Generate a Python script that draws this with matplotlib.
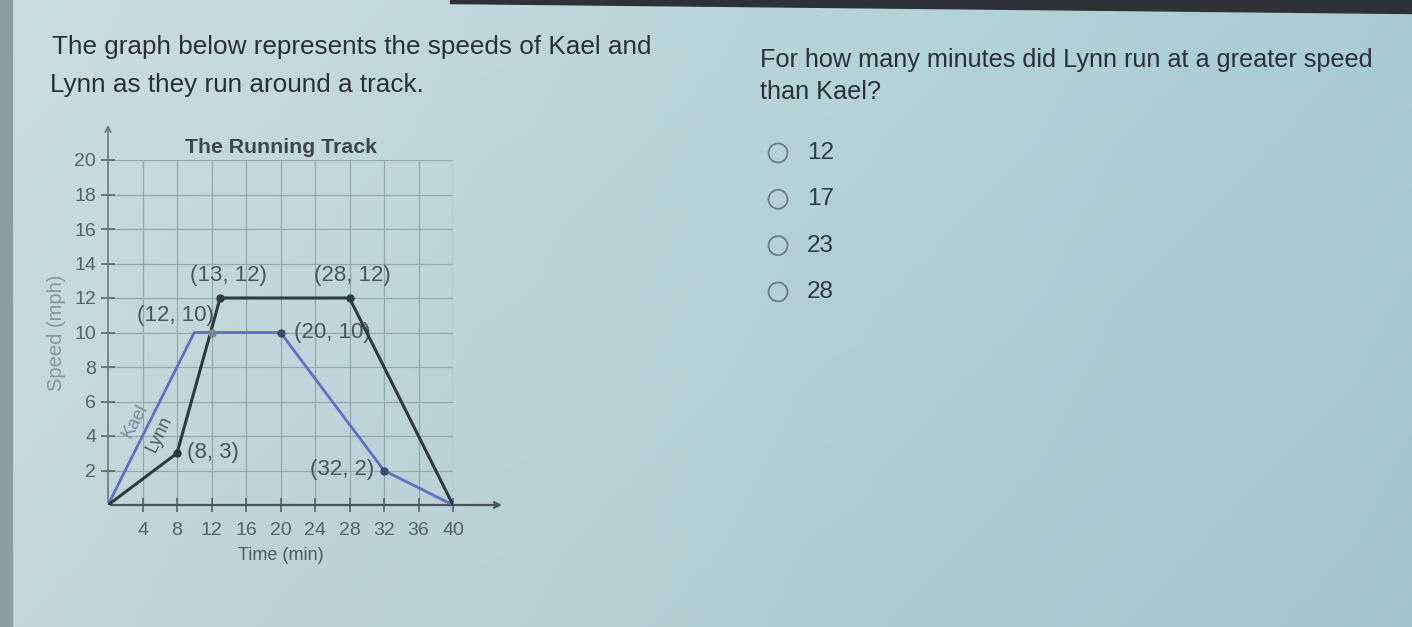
import numpy as np
import matplotlib
matplotlib.use("Agg")
import matplotlib.pyplot as plt
from matplotlib.patches import Circle

plt.rcParams['font.family'] = ['Liberation Sans', 'DejaVu Sans']

# speed data
kael_time = [0, 10, 20, 32, 40]
kael_speed = [0, 10, 10, 2, 0]
lynn_time = [0, 8, 13, 28, 40]
lynn_speed = [0, 3, 12, 12, 0]

# labelled points
point_x = [13, 28, 12, 20, 8, 32]
point_y = [12, 12, 10, 10, 3, 2]
point_text = ["(13, 12)", "(28, 12)", "(12, 10)", "(20, 10)", "(8, 3)", "(32, 2)"]

x_ticks = [4, 8, 12, 16, 20, 24, 28, 32, 36, 40]
y_ticks = [2, 4, 6, 8, 10, 12, 14, 16, 18, 20]

choices = ["12", "17", "23", "28"]

fig = plt.figure(figsize=(14.12, 6.27), dpi=100)

# photo-ish background
bg = fig.add_axes([0, 0, 1, 1])
gx = np.linspace(0, 1, 300)
gy = np.linspace(0, 1, 150)
GX, GY = np.meshgrid(gx, gy)
left_col = np.array([0.80, 0.87, 0.88])
right_col = np.array([0.66, 0.80, 0.84])
img = left_col[None, None, :] * (1 - GX[..., None]) + right_col[None, None, :] * GX[..., None]
img = img - 0.03 * GY[..., None]
bg.imshow(np.clip(img, 0, 1), extent=[0, 1412, 627, 0], aspect='auto')
bg.fill_between([0, 12], 0, 627, color='#8c9ca2')
bg.fill_between([450, 1412], [0, 0], [3, 13], color='#2e3236')
bg.set_xlim(0, 1412)
bg.set_ylim(627, 0)
bg.axis('off')

text_col = '#2a3038'
bg.text(52, 47, "The graph below represents the speeds of Kael and", fontsize=18.8, color=text_col, va='center')
bg.text(50, 85, "Lynn as they run around a track.", fontsize=18.8, color=text_col, va='center')
bg.text(760, 60, "For how many minutes did Lynn run at a greater speed", fontsize=18.2, color=text_col, va='center')
bg.text(760, 92, "than Kael?", fontsize=18.2, color=text_col, va='center')

for i, c in enumerate(choices):
    yy = 153 + i * 46.3
    bg.add_patch(Circle((778, yy), 9.5, fill=False, ec='#6d7c82', lw=1.3))
    bg.text(807, yy, c, fontsize=17.5, color='#2e3a48', va='center')

# the chart
ax = fig.add_axes([108 / 1412, 122 / 627, 345 / 1412, 345 / 627])
ax.patch.set_alpha(0)
ax.set_xlim(0, 40)
ax.set_ylim(0, 20)
for s in ax.spines.values():
    s.set_visible(False)

for t in x_ticks:
    ax.plot([t, t], [0, 20], color='#93a9b0', lw=0.9, zorder=1)
for t in y_ticks:
    ax.plot([0, 40], [t, t], color='#93a9b0', lw=0.9, zorder=1)

ax.annotate("", xy=(46, 0), xytext=(0, 0), annotation_clip=False,
            arrowprops=dict(arrowstyle='->', color='#4a5358', lw=1.6))
ax.annotate("", xy=(0, 22.2), xytext=(0, 0), annotation_clip=False,
            arrowprops=dict(arrowstyle='->', color='#6c787d', lw=1.2))

ax.set_xticks(x_ticks)
ax.set_yticks(y_ticks)
ax.tick_params(axis='both', direction='inout', length=10, width=1.1, color='#4f5a5f',
               labelsize=14, labelcolor='#56626a')
ax.tick_params(axis='x', pad=7)
ax.tick_params(axis='y', pad=3.5)

ax.plot(kael_time, kael_speed, color='#5f6fc4', lw=2.0, zorder=3)
ax.plot(lynn_time, lynn_speed, color='#2f3a3f', lw=2.2, zorder=4)
ax.plot([20, 32], [10, 2], 'o', color='#3d4a6a', ms=5, zorder=5)
ax.plot([8, 13, 28], [3, 12, 12], 'o', color='#2f3a3f', ms=5, zorder=5)
ax.plot([12], [10], 'o', color='#7b8a90', ms=5, zorder=5)

offsets = [(8, 23), (3, 23), (-36, 17), (52, 0), (36, 1), (-42, 1)]
for px, py, txt, off in zip(point_x, point_y, point_text, offsets):
    ax.annotate(txt, (px, py), xytext=off, textcoords='offset pixels',
                ha='center', va='center', fontsize=16, color='#4a5560')

ax.text(3.1, 4.9, "Kael", rotation=62, fontsize=13, color='#7d8ca0', ha='center', va='center')
ax.text(6.0, 4.1, "Lynn", rotation=64, fontsize=13, color='#4f5a60', ha='center', va='center')

ax.set_title("The Running Track", fontsize=15.3, fontweight='bold', color='#3c464c', pad=5)
ax.set_xlabel("Time (min)", fontsize=13, color='#4f5b62', labelpad=6)
ax.set_ylabel("Speed (mph)", fontsize=14.5, color='#8696a0', labelpad=6)

fig.savefig("out.png", dpi=100)
